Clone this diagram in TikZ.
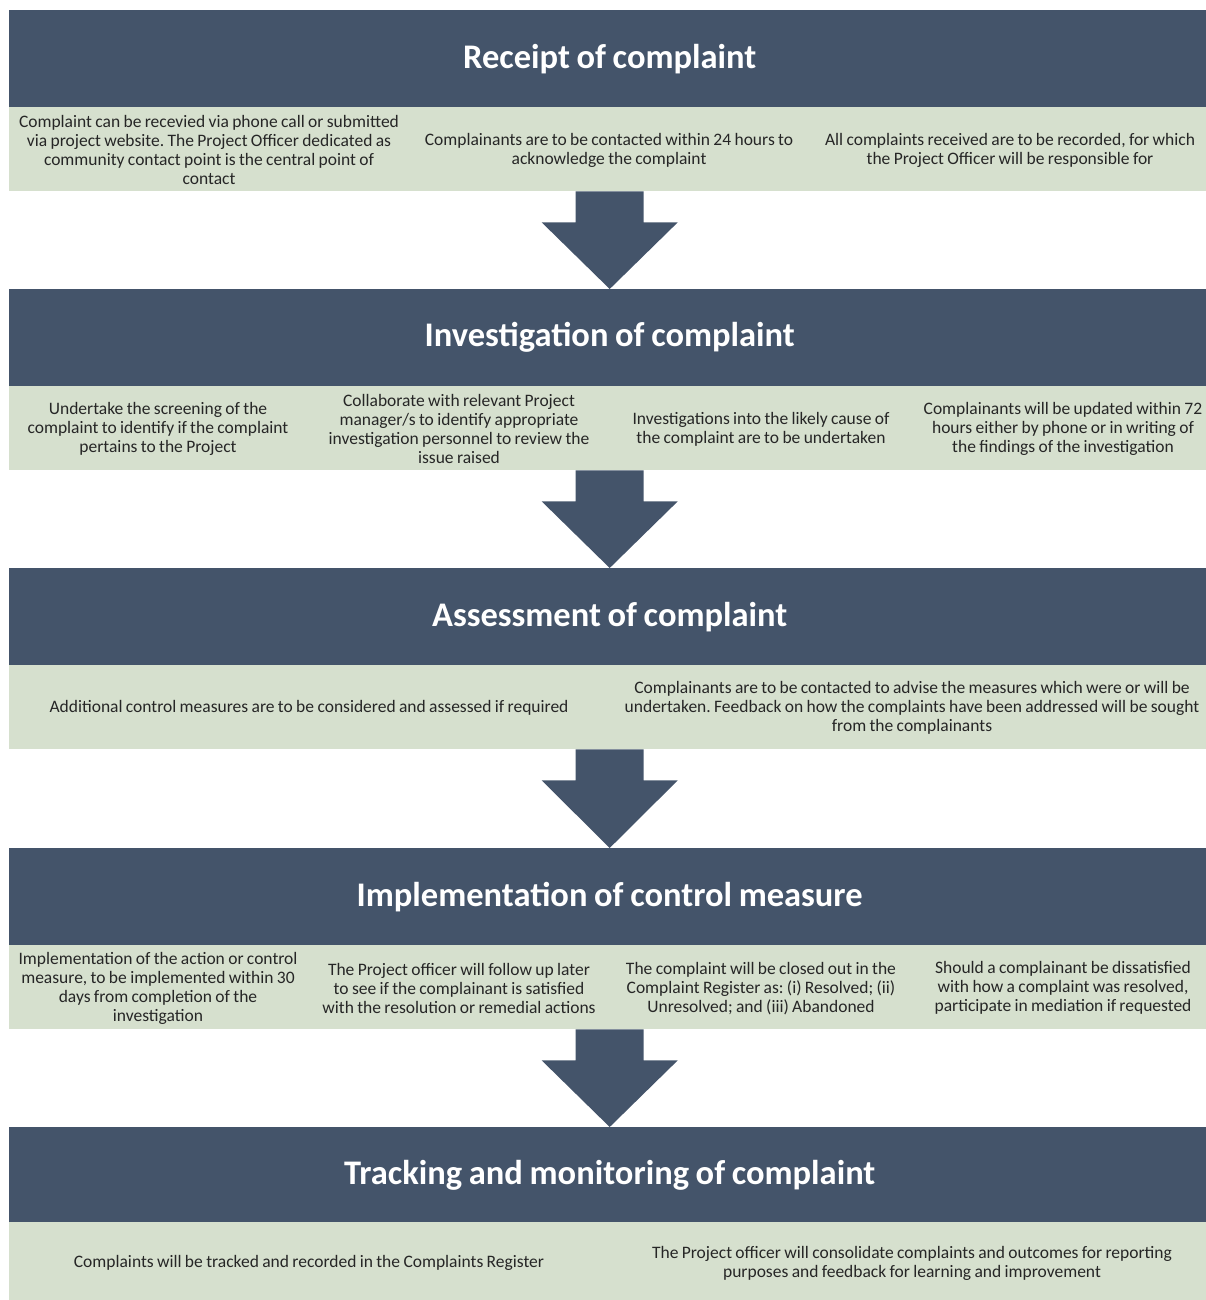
\documentclass[tikz,border=0pt]{standalone}
\usepackage{fontspec}
\setmainfont{Carlito}[WordSpace=0.85]
\usetikzlibrary{calc}
\frenchspacing

\definecolor{slate}{HTML}{44546A}
\definecolor{sage}{HTML}{D6E0CE}
\definecolor{ink}{HTML}{262626}

\tikzset{
  header/.style={fill=slate, minimum width=1201pt, minimum height=97pt,
    anchor=north west, inner sep=0pt, text=white,
    font=\fontsize{34.5}{40}\selectfont\bfseries},
  band/.style={fill=sage, minimum width=1201pt, minimum height=84pt,
    anchor=north west, inner sep=0pt},
  note/.style={align=center, text=ink, inner sep=0pt, yshift=-1pt,
    font=\fontsize{17.5}{19}\selectfont},
  flowarrow/.style={fill=slate},
}

% block arrow hanging from the bottom of one band down to the next header
\newcommand\stagearrow[2]{%
  \fill[flowarrow] ($(#1.south)+(-34,0)$) -- ($(#1.south)+(34,0)$)
    -- ($(#1.south)+(34,31)$) -- ($(#1.south)+(68,31)$)
    -- (#2.north)
    -- ($(#1.south)+(-68,31)$) -- ($(#1.south)+(-34,31)$) -- cycle;}

\begin{document}
\begin{tikzpicture}[x=1pt, y=-1pt]
  \useasboundingbox (0,0) rectangle (1206,1300);
  \clip (0,0) rectangle (1206,1300);

  % stage 1
  \node[header] (h1) at (9,10) {Receipt of complaint};
  \node[band] (b1) at (9,107) {};
  \node[note] (n11) at ($(b1.west)+(200,0)$) {Complaint can be recevied via phone call or submitted\\via project website. The Project Officer dedicated as\\community contact point is the central point of\\contact};
  \node[note] (n12) at ($(b1.west)+(600,0)$) {Complainants are to be contacted within 24 hours to\\acknowledge the complaint};
  \node[note] (n13) at ($(b1.west)+(1001,0)$) {All complaints received are to be recorded, for which\\the Project Officer will be responsible for};

  % stage 2
  \node[header] (h2) at (9,289) {Investigation of complaint};
  \node[band] (b2) at (9,386) {};
  \node[note] (n21) at ($(b2.west)+(149,0)$) {Undertake the screening of the\\complaint to identify if the complaint\\pertains to the Project};
  \node[note] (n22) at ($(b2.west)+(450,0)$) {Collaborate with relevant Project\\manager/s to identify appropriate\\investigation personnel to review the\\issue raised};
  \node[note] (n23) at ($(b2.west)+(752,0)$) {Investigations into the likely cause of\\the complaint are to be undertaken};
  \node[note] (n24) at ($(b2.west)+(1054,0)$) {Complainants will be updated within 72\\hours either by phone or in writing of\\the findings of the investigation};

  % stage 3
  \node[header] (h3) at (9,568) {Assessment of complaint};
  \node[band] (b3) at (9,665) {};
  \node[note] (n31) at ($(b3.west)+(300,0)$) {Additional control measures are to be considered and assessed if required};
  \node[note] (n32) at ($(b3.west)+(903,0)$) {Complainants are to be contacted to advise the measures which were or will be\\undertaken. Feedback on how the complaints have been addressed will be sought\\from the complainants};

  % stage 4
  \node[header] (h4) at (9,848) {Implementation of control measure};
  \node[band] (b4) at (9,945) {};
  \node[note] (n41) at ($(b4.west)+(149,0)$) {Implementation of the action or control\\measure, to be implemented within 30\\days from completion of the\\investigation};
  \node[note] (n42) at ($(b4.west)+(450,0)$) {The Project officer will follow up later\\to see if the complainant is satisfied\\with the resolution or remedial actions};
  \node[note] (n43) at ($(b4.west)+(752,0)$) {The complaint will be closed out in the\\Complaint Register as: (i) Resolved; (ii)\\Unresolved; and (iii) Abandoned};
  \node[note] (n44) at ($(b4.west)+(1054,0)$) {Should a complainant be dissatisfied\\with how a complaint was resolved,\\participate in mediation if requested};

  % stage 5
  \node[header] (h5) at (9,1127) {Tracking and monitoring of complaint};
  \node[band, minimum height=80pt] (b5) at (9,1222) {};
  \node[note] (n51) at ($(b5.west)+(300,0)$) {Complaints will be tracked and recorded in the Complaints Register};
  \node[note] (n52) at ($(b5.west)+(903,0)$) {The Project officer will consolidate complaints and outcomes for reporting\\purposes and feedback for learning and improvement};

  % arrows between stages
  \stagearrow{b1}{h2}
  \stagearrow{b2}{h3}
  \stagearrow{b3}{h4}
  \stagearrow{b4}{h5}
\end{tikzpicture}
\end{document}
